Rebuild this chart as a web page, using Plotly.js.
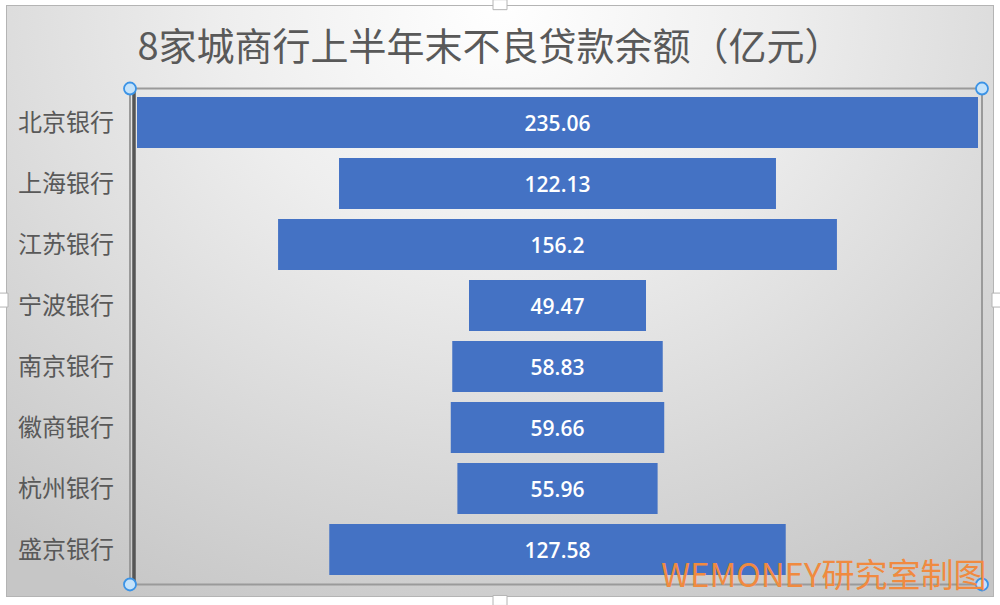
<!DOCTYPE html>
<html>
<head>
<meta charset="utf-8">
<script src="https://cdn.plot.ly/plotly-3.0.1.min.js"></script>
<style>
  html, body { margin: 0; padding: 0; background: #ffffff; width: 1000px; height: 605px; overflow: hidden; }
  #frame {
    position: absolute; left: 6px; top: 5px; width: 986px; height: 590px;
    border: 1.5px solid #b4b4b4;
    background: radial-gradient(ellipse 80% 115% at 50% 0%, #ffffff 0%, #eeeeee 35%, #d8d8d8 70%, #c6c6c6 100%);
  }
  #chart { position: absolute; left: 0; top: 0; width: 1000px; height: 605px; }
</style>
</head>
<body>
<div id="frame"></div>
<div id="chart"></div>
<script>
const categories = ["北京银行", "上海银行", "江苏银行", "宁波银行", "南京银行", "徽商银行", "杭州银行", "盛京银行"];
const npl = [235.06, 122.13, 156.2, 49.47, 58.83, 59.66, 55.96, 127.58];
const titleText = "8家城商行上半年末不良贷款余额（亿元）";
const watermark = "WEMONEY研究室制图";

const L = 137, R = 978, T = 91.5, B = 580.5;
const W = R - L, H = B - T;
const px = v => (v - L) / W;
const py = v => (B - v) / H;

const maxV = Math.max(...npl);

function handle(cx, cy) {
  const r = 6;
  return { type: 'circle', xref: 'paper', yref: 'paper',
    x0: px(cx - r), x1: px(cx + r), y0: py(cy + r), y1: py(cy - r),
    fillcolor: '#c4e2fa', line: { color: '#3b93e6', width: 1.8 }, layer: 'above' };
}
function square(x0, y0, x1, y1) {
  return { type: 'rect', xref: 'paper', yref: 'paper',
    x0: px(x0), x1: px(x1), y0: py(y1), y1: py(y0),
    fillcolor: '#ffffff', line: { color: '#b4b4b4', width: 1 }, layer: 'above' };
}

const data = [{
  type: 'funnel',
  y: categories,
  x: npl,
  orientation: 'h',
  marker: { color: '#4472C4', line: { width: 0 } },
  connector: { visible: false },
  textposition: 'inside',
  insidetextanchor: 'middle',
  texttemplate: '%{x}',
  textfont: { color: '#ffffff', size: 21, family: 'Open Sans, sans-serif', weight: 600 },
  hoverinfo: 'skip',
  width: 0.835
}];

const layout = {
  width: 1000, height: 605,
  margin: { l: L, r: 1000 - R, t: T, b: 605 - B },
  paper_bgcolor: 'rgba(0,0,0,0)',
  plot_bgcolor: 'rgba(0,0,0,0)',
  showlegend: false,
  title: {
    text: titleText,
    x: 0.49, xref: 'container', xanchor: 'center',
    y: 1 - 47 / 605, yref: 'container', yanchor: 'middle',
    font: { family: 'Noto Sans CJK SC, sans-serif', size: 38, color: '#595959' }
  },
  xaxis: {
    range: [-maxV / 2, maxV / 2],
    visible: false, showgrid: false, zeroline: false, fixedrange: true
  },
  yaxis: {
    type: 'category',
    autorange: 'reversed',
    showgrid: false, zeroline: false, showline: false,
    ticks: '', ticklabelstandoff: 22,
    tickfont: { family: 'Noto Sans CJK SC, sans-serif', size: 24, color: '#595959' },
    fixedrange: true
  },
  shapes: [
    { type: 'rect', xref: 'paper', yref: 'paper',
      x0: px(130), x1: px(982), y0: py(585), y1: py(88),
      line: { color: '#9a9a9a', width: 2 }, layer: 'below' },
    { type: 'line', xref: 'paper', yref: 'paper',
      x0: px(134), x1: px(134), y0: py(585), y1: py(90),
      line: { color: '#555555', width: 3.5 }, layer: 'above' },
    handle(130, 88), handle(982, 88), handle(130, 585), handle(982, 585),
    square(493, -1, 507, 9), square(-2, 293, 8, 307), square(992, 293, 1002, 307), square(493, 596, 507, 606)
  ],
  annotations: [{
    text: watermark, xref: 'paper', yref: 'paper',
    x: px(989), y: py(573), xanchor: 'right', yanchor: 'middle',
    showarrow: false,
    font: { family: 'Noto Sans CJK SC, sans-serif', size: 33, color: '#F08A40' }
  }]
};

Plotly.newPlot('chart', data, layout, { displayModeBar: false, staticPlot: true });
</script>
</body>
</html>
